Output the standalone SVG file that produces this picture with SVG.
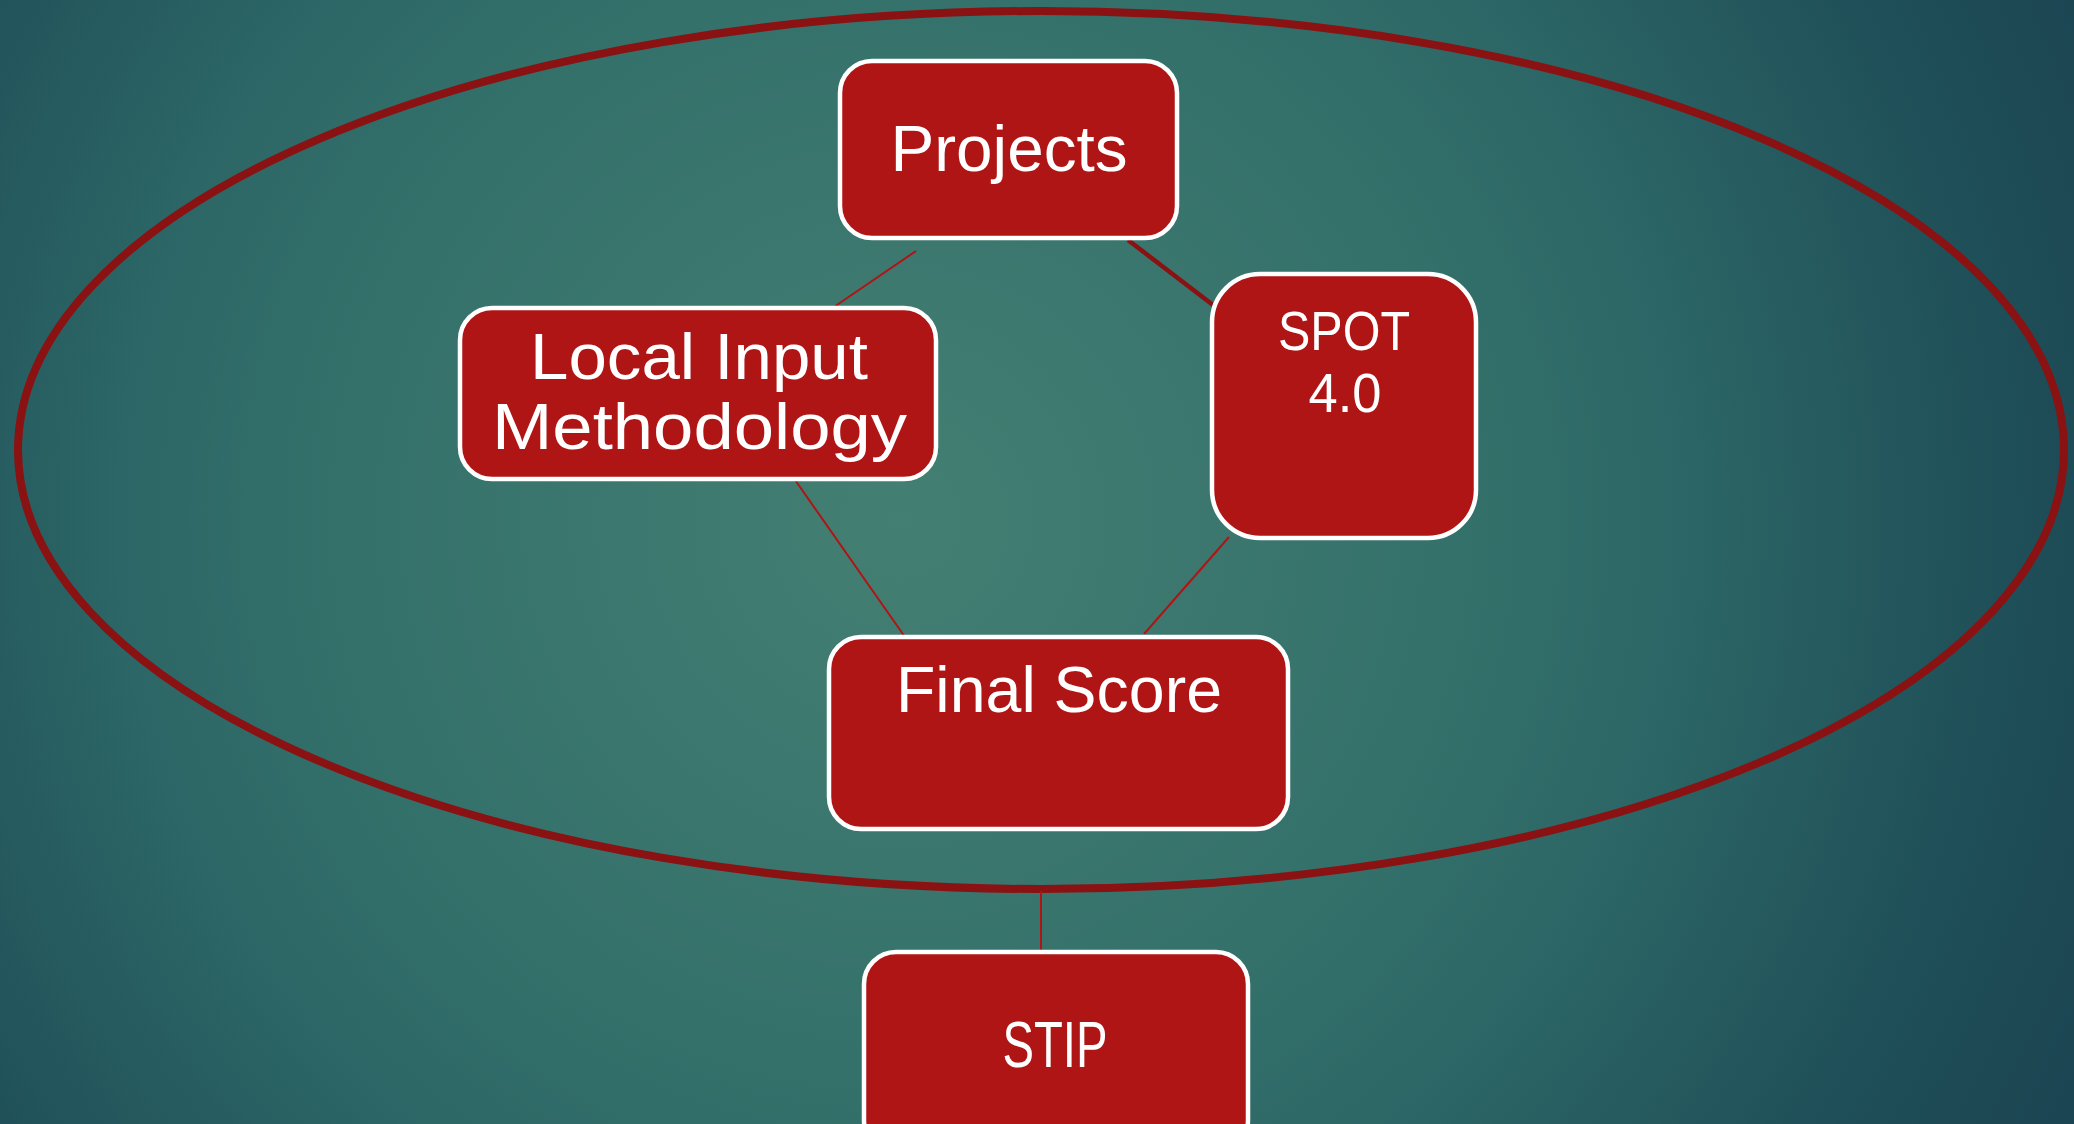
<svg xmlns="http://www.w3.org/2000/svg" width="2074" height="1124" viewBox="0 0 2074 1124">
<defs>
<radialGradient id="bg" gradientUnits="userSpaceOnUse" cx="900" cy="520" r="1300">
<stop offset="0" stop-color="#447f73"/>
<stop offset="0.45" stop-color="#33706a"/>
<stop offset="0.6" stop-color="#2c6666"/>
<stop offset="0.85" stop-color="#1f4f58"/>
<stop offset="1" stop-color="#1b4552"/>
</radialGradient>
<style>
.box{fill:#b01515;stroke:#ffffff;stroke-width:4.5}
.lbl{fill:#ffffff;font-family:"Liberation Sans","DejaVu Sans",sans-serif;text-anchor:middle}
.con{stroke:#b01515;stroke-width:2;fill:none}
.con-thick{stroke:#8a1212;stroke-width:4.5;fill:none}
</style>
</defs>
<rect x="0" y="0" width="2074" height="1124" fill="url(#bg)"/>
<ellipse id="boundary" cx="1041" cy="450" rx="1023" ry="439" fill="none" stroke="#8a1212" stroke-width="8"/>
<g id="connectors">
<line class="con" x1="916" y1="251" x2="831" y2="309"/>
<line class="con-thick" x1="1128" y1="240" x2="1213" y2="305"/>
<line class="con" x1="793" y1="477" x2="905" y2="637"/>
<line class="con" x1="1229" y1="537" x2="1144" y2="634"/>
<line class="con" x1="1041" y1="891" x2="1041" y2="951"/>
</g>
<g id="node-projects">
<rect class="box" x="840" y="61" width="337" height="177" rx="32"/>
<text class="lbl" x="1009" y="171" font-size="64" textLength="237" lengthAdjust="spacingAndGlyphs">Projects</text>
</g>
<g id="node-spot">
<rect class="box" x="1212" y="274" width="264" height="264" rx="48"/>
<text class="lbl" x="1344" y="350" font-size="56" textLength="132" lengthAdjust="spacingAndGlyphs">SPOT</text>
<text class="lbl" x="1345" y="412" font-size="56" textLength="73" lengthAdjust="spacingAndGlyphs">4.0</text>
</g>
<g id="node-local">
<rect class="box" x="460" y="308" width="476" height="171" rx="32"/>
<text class="lbl" x="699" y="379" font-size="65" textLength="338" lengthAdjust="spacingAndGlyphs">Local Input</text>
<text class="lbl" x="699.5" y="449" font-size="65" textLength="415" lengthAdjust="spacingAndGlyphs">Methodology</text>
</g>
<g id="node-final">
<rect class="box" x="829" y="637" width="459" height="192" rx="32"/>
<text class="lbl" x="1059" y="712" font-size="65" textLength="326" lengthAdjust="spacingAndGlyphs">Final Score</text>
</g>
<g id="node-stip">
<rect class="box" x="864" y="952" width="384" height="200" rx="32"/>
<text class="lbl" x="1055" y="1067" font-size="64" textLength="105" lengthAdjust="spacingAndGlyphs">STIP</text>
</g>
</svg>
